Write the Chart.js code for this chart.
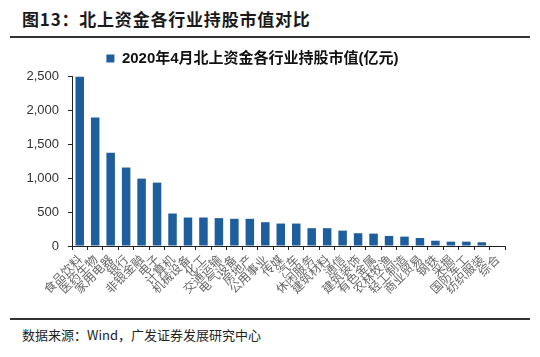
<!DOCTYPE html>
<html>
<head>
<meta charset="utf-8">
<script src="https://cdn.jsdelivr.net/npm/chart.js@4/dist/chart.umd.min.js"></script>
<style>
  html, body { margin: 0; padding: 0; background: #fff; }
  #wrap { position: relative; width: 540px; height: 357px; overflow: hidden; background: #fff; }
  #title { position: absolute; left: 22px; top: 6px; font: bold 17px "Noto Sans CJK SC", sans-serif; color: #1a1a1a; letter-spacing: 0.8px; }
  .rule { position: absolute; left: 10px; width: 520px; height: 1.5px; background: #333; }
  #src { position: absolute; left: 22px; top: 325px; font: 13px "Noto Sans CJK SC", sans-serif; color: #222; }
  #box { position: absolute; left: 0; top: 44px; width: 540px; height: 272px; }
</style>
</head>
<body>
<div id="wrap">
  <div id="title">图13：北上资金各行业持股市值对比</div>
  <div class="rule" style="top:36px"></div>
  <div id="box"><canvas id="c"></canvas></div>
  <div class="rule" style="top:318px"></div>
  <div id="src">数据来源：Wind，广发证券发展研究中心</div>
</div>
<script>
const seriesName = "2020年4月北上资金各行业持股市值(亿元)";
const categories = ["食品饮料","医药生物","家用电器","银行","非银金融","电子","计算机","机械设备","化工","交通运输","电气设备","房地产","公用事业","传媒","汽车","休闲服务","建筑材料","通信","建筑装饰","有色金属","农林牧渔","轻工制造","商业贸易","钢铁","采掘","国防军工","纺织服装","综合"];
const values = [2490,1889,1371,1154,991,932,478,419,419,410,400,400,350,330,330,262,262,226,188,182,148,138,118,78,64,64,55,8];
const yTicks = [0,500,1000,1500,2000,2500];

new Chart(document.getElementById('c'), {
  type: 'bar',
  data: {
    labels: categories,
    datasets: [{
      label: seriesName,
      data: values,
      backgroundColor: '#1f5e9c',
      borderWidth: 0,
      barPercentage: 0.55,
      categoryPercentage: 1.0
    }]
  },
  options: {
    responsive: true,
    maintainAspectRatio: false,
    animation: false,
    layout: { padding: { left: 0, right: 35, top: 0, bottom: 0 } },
    plugins: {
      legend: {
        display: true,
        position: 'top',
        labels: {
          boxWidth: 8, boxHeight: 8, padding: 7,
          color: '#111',
          font: { family: '"Liberation Sans", "Noto Sans CJK SC", sans-serif', size: 15, weight: 'bold' }
        }
      },
      tooltip: { enabled: false }
    },
    scales: {
      x: {
        grid: { display: true, drawOnChartArea: false, drawTicks: true, tickLength: 4, color: '#222', offset: true },
        border: { display: true, color: '#222', width: 1 },
        ticks: {
          autoSkip: false, maxRotation: 45, minRotation: 45, padding: 2,
          color: '#666',
          font: { family: '"Noto Sans CJK SC", sans-serif', size: 12 }
        },
        afterFit: s => { s.height = 70; }
      },
      y: {
        min: 0, max: 2500,
        afterBuildTicks: s => { s.ticks = yTicks.map(v => ({ value: v })); },
        grid: { display: true, drawOnChartArea: false, drawTicks: true, tickLength: 4, color: '#222' },
        border: { display: true, color: '#222', width: 1 },
        ticks: {
          padding: 9,
          color: '#333',
          font: { family: '"Liberation Sans", Arial, sans-serif', size: 13 },
          callback: v => v.toLocaleString('en-US')
        },
        afterFit: s => { s.width = 72; }
      }
    }
  }
});
</script>
</body>
</html>
